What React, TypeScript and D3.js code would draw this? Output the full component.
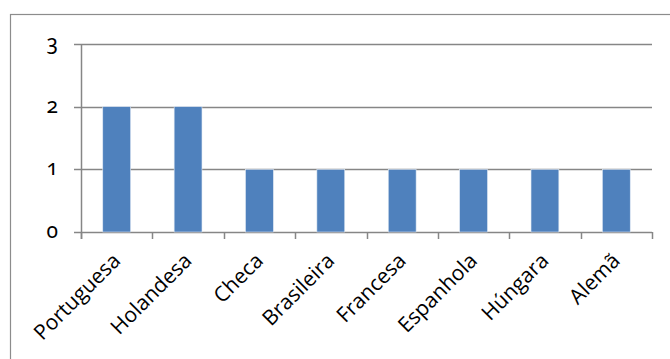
import React from "react";
import * as d3 from "d3";

const categories = ["Portuguesa", "Holandesa", "Checa", "Brasileira", "Francesa", "Espanhola", "Húngara", "Alemã"];
const values = [2, 2, 1, 1, 1, 1, 1, 1];
const yTicks = [0, 1, 2, 3];

const W = 670;
const H = 359;
const plot = { left: 81, right: 652, top: 44, bottom: 232 };
const font = "'Open Sans', 'Liberation Sans', sans-serif";

export default function App() {
  const x = d3
    .scaleBand<string>()
    .domain(categories)
    .range([plot.left, plot.right])
    .paddingInner(0.61)
    .paddingOuter(0.305);
  const step = (plot.right - plot.left) / categories.length;
  const y = d3.scaleLinear().domain([0, 3]).range([plot.bottom, plot.top]);
  const gridColor = "#868686";

  return (
    <svg
      width={W}
      height={H}
      style={{ position: "absolute", left: 0, top: 0, background: "#fff" }}
      fontFamily={font}
    >
      {/* chart frame */}
      <rect x={10.5} y={14.5} width={W} height={H} fill="none" stroke="#8c8c8c" strokeWidth={1.2} />

      {/* horizontal gridlines with left tick marks */}
      {yTicks.map((t) => (
        <g key={t}>
          <line
            x1={plot.left - 7}
            x2={plot.right}
            y1={Math.round(y(t)) + 0.5}
            y2={Math.round(y(t)) + 0.5}
            stroke={gridColor}
            strokeWidth={1.5}
          />
          <text
            x={58}
            y={y(t) + 6}
            textAnchor="end"
            fontSize={21}
            fontFamily="'Noto Sans', 'Open Sans', sans-serif"
            fill="#000"
            style={{ fontVariantNumeric: "oldstyle-nums", fontFeatureSettings: "'onum' 1" }}
          >
            {t}
          </text>
        </g>
      ))}

      {/* bars */}
      {categories.map((c, i) => (
        <rect
          key={c}
          x={x(c)!}
          y={y(values[i])}
          width={x.bandwidth()}
          height={y(0) - y(values[i])}
          fill="#4f81bd"
          stroke="#dfe8f3"
          strokeWidth={0.6}
        />
      ))}

      {/* value axis */}
      <line x1={plot.left + 0.5} x2={plot.left + 0.5} y1={plot.top} y2={plot.bottom + 7} stroke={gridColor} strokeWidth={1.5} />

      {/* category axis ticks at band boundaries */}
      {d3.range(categories.length + 1).map((i) => {
        const xx = Math.round(plot.left + i * step) + 0.5;
        return <line key={i} x1={xx} x2={xx} y1={plot.bottom} y2={plot.bottom + 7} stroke={gridColor} strokeWidth={1.5} />;
      })}

      {/* category labels */}
      {categories.map((c) => {
        const cx = x(c)! + x.bandwidth() / 2 + 5;
        const cy = plot.bottom + 30;
        return (
          <text
            key={c}
            transform={`translate(${cx},${cy}) rotate(-45)`}
            textAnchor="end"
            fontSize={21}
            fill="#000"
          >
            {c}
          </text>
        );
      })}
    </svg>
  );
}
